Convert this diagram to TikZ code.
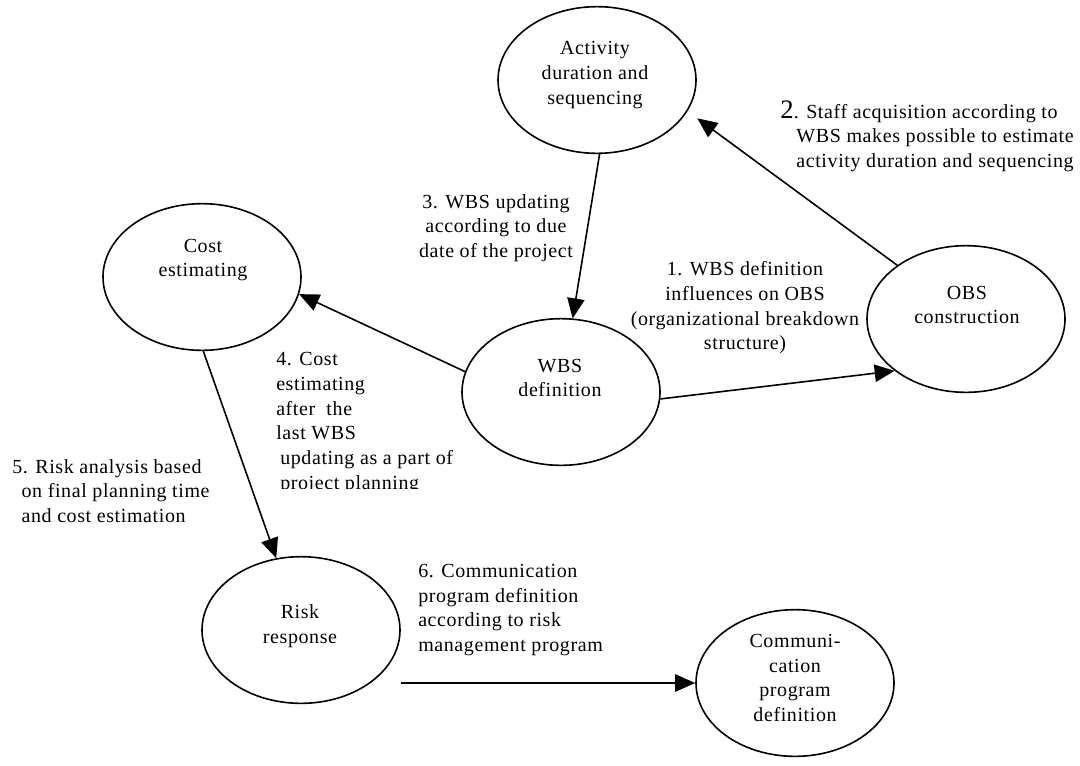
\documentclass[tikz,border=0pt]{standalone}
\usepackage{fontspec}
\setmainfont{Liberation Serif}[LetterSpace=3]
\usetikzlibrary{shapes.geometric,arrows.meta}
\begin{document}
\begin{tikzpicture}[x=0.75pt,y=-0.75pt,
  every node/.style={font=\fontsize{15pt}{18.5pt}\selectfont, inner sep=0pt},
  oval/.style={ellipse, draw, line width=1.2pt, minimum width=148.5pt, minimum height=110pt},
  intext/.style={align=center},
  lab/.style={align=center},
  labl/.style={align=left, anchor=west},
  conn/.style={line width=1.2pt, -{Triangle[length=15pt,width=13pt]}}
]
\useasboundingbox (0,0) rectangle (1080,765);

% ellipses
\node[oval] (act)  at (597,80)  {};
\node[oval] (cost) at (202,277) {};
\node[oval] (wbs)  at (561,392) {};
\node[oval] (obs)  at (966,319) {};
\node[oval] (risk) at (301,630) {};
\node[oval] (comm) at (795,683) {};

% texts inside ellipses
\node[intext] (actT)  at (595,75)  {Activity\\duration and\\sequencing};
\node[intext] (costT) at (203,260) {Cost\\estimating};
\node[intext] (wbsT)  at (560,378) {WBS\\definition};
\node[intext] (obsT)  at (967,305) {OBS\\construction};
\node[intext] (riskT) at (300,626) {Risk\\response};
\node[intext] (commT) at (795,678) {Communi-\\cation\\program\\definition};

% connectors
\draw[conn] (wbs.-4.6) -- (obs.216);
\draw[conn, shorten >=9pt] (obs.142) -- (act.-19);
\draw[conn] (act.-88) -- (wbs.81);
\draw[conn] (wbs.168.6) -- (cost.-10);
\draw[conn] (cost.-89) -- (risk.109);
\draw[conn] (risk.east |- comm.west) -- (comm.west);

% labels
\node[lab] (l1) at (745,308) {1. WBS definition\\influences on OBS\\(organizational breakdown\\structure)};
\node[lab] (l2) at (935,136) {{\fontsize{20pt}{18.5pt}\selectfont 2}. Staff acquisition according to\hspace*{24pt}\\WBS makes possible to estimate\\activity duration and sequencing};
\node[lab] (l3) at (496,228) {3. WBS updating\\according to due\\date of the project};
\begin{scope}
\clip (250,340) rectangle (520,488);
\node[labl] (l4) at (276,423) {4. Cost\\estimating\\after\ \ the\\last WBS\\\hspace*{3pt}updating as a part of\\\hspace*{3pt}project planning};
\end{scope}
\node[labl] (l5) at (12,491) {5. Risk analysis based\\\hspace*{7pt}on final planning time\\\hspace*{7pt}and cost estimation};
\node[labl] (l6) at (418,610) {6. Communication\\program definition\\according to risk\\management program};
\end{tikzpicture}
\end{document}
